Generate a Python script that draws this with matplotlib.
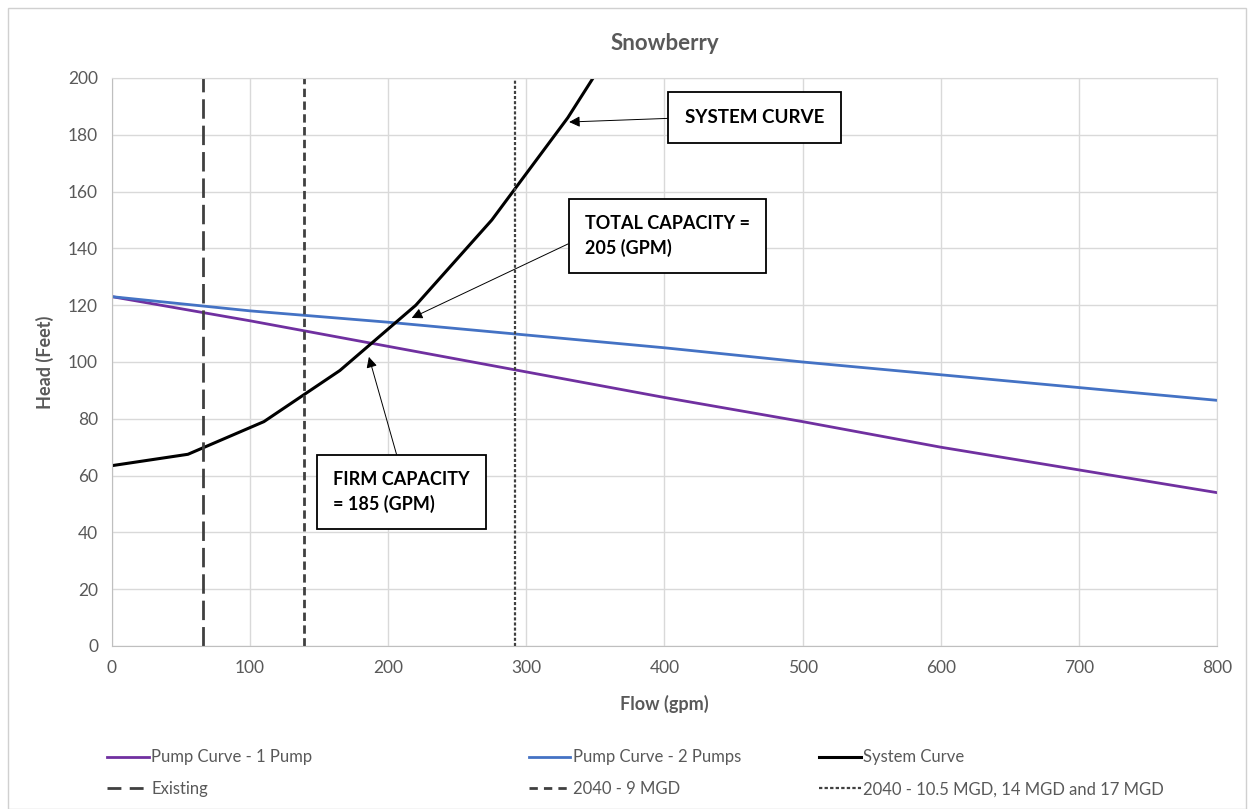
"""Snowberry pump station: pump curves vs system curve."""

import matplotlib.pyplot as plt
from matplotlib.lines import Line2D
from matplotlib.patches import Rectangle

plt.rcParams['font.family'] = ['Lato', 'DejaVu Sans']

# pump curves (flow gpm -> head ft)
pump_flow = [0, 100, 200, 300, 400, 500, 600, 700, 800]
pump1_head = [123, 114.5, 105.5, 96.5, 87.5, 79, 70, 62, 54]
pump2_head = [123, 118, 114, 109.5, 105, 100, 95.5, 91, 86.5]

# system curve
sys_flow = [0, 55, 110, 165, 220, 275, 330, 385]
sys_head = [63.5, 67.5, 79, 97, 120, 150, 186, 228]

# demand lines (gpm)
existing_flow = 66
mgd9_flow = 139
mgd_high_flow = 292

GRAY = '#595959'
GRID = '#D9D9D9'

fig = plt.figure(figsize=(12.51, 8.09), dpi=100)
fig.patches.append(Rectangle((0.006, 0.0), 0.99, 0.99, transform=fig.transFigure,
                             fill=False, edgecolor='#D0D0D0', lw=1))
ax = fig.add_axes([0.0895, 0.2015, 0.8833, 0.7021])

ax.plot(pump_flow, pump1_head, color='#7030A0', lw=2, label='Pump Curve - 1 Pump')
ax.plot(pump_flow, pump2_head, color='#4472C4', lw=2, label='Pump Curve - 2 Pumps')
ax.plot(sys_flow, sys_head, color='black', lw=2.2, label='System Curve')
ax.axvline(existing_flow, color='#404040', lw=2, dashes=(7, 2.5))
ax.axvline(mgd9_flow, color='#404040', lw=2, dashes=(3, 1.6))
ax.axvline(mgd_high_flow, color='#404040', lw=1.6, dashes=(1.4, 0.9))

ax.set_xlim(0, 800)
ax.set_ylim(0, 200)
ax.set_xticks(range(0, 801, 100))
ax.set_yticks(range(0, 201, 20))
ax.grid(True, color=GRID, lw=1)
ax.set_axisbelow(True)
for s in ax.spines.values():
    s.set_color(GRID)
ax.spines['left'].set_color('#BFBFBF')
ax.spines['bottom'].set_color('#BFBFBF')
ax.tick_params(length=0, labelsize=12.5, labelcolor=GRAY, pad=10)

ax.set_title('Snowberry', fontsize=16, fontweight='bold', color=GRAY, pad=20)
ax.set_xlabel('Flow (gpm)', fontsize=13, fontweight='bold', color=GRAY, labelpad=14)
ax.set_ylabel('Head (Feet)', fontsize=13, fontweight='bold', color=GRAY, labelpad=10)

box = dict(boxstyle='square,pad=0.9', fc='white', ec='black', lw=1.3)
arrow = dict(arrowstyle='-|>', color='black', lw=0.7, mutation_scale=16, shrinkA=0, shrinkB=0)

ax.annotate('SYSTEM CURVE', xy=(331, 184.5), xytext=(415, 186), ha='left', va='center',
            fontsize=13.5, fontweight='bold', bbox=box,
            arrowprops=dict(arrow, relpos=(0, 0.5)))
ax.annotate('TOTAL CAPACITY =\n205 (GPM)', xy=(217, 115.5), xytext=(342.5, 144.4),
            ha='left', va='center', fontsize=13, fontweight='bold', linespacing=1.45,
            bbox=box, arrowprops=dict(arrow, relpos=(0, 0.5)))
ax.annotate('FIRM CAPACITY\n= 185 (GPM)', xy=(186, 101.8), xytext=(160, 54.2),
            ha='left', va='center', fontsize=13, fontweight='bold', linespacing=1.45,
            bbox=box, arrowprops=dict(arrow, relpos=(0.5, 1)))

# legend, three columns placed by hand
h_p1 = Line2D([], [], color='#7030A0', lw=2)
h_p2 = Line2D([], [], color='#4472C4', lw=2)
h_sys = Line2D([], [], color='black', lw=2.2)
h_ex = Line2D([], [], color='#404040', lw=2, dashes=(5, 3))
h_9 = Line2D([], [], color='#404040', lw=2, dashes=(3, 2.2))
h_hi = Line2D([], [], color='#404040', lw=1.6, dashes=(1.5, 1))

cols = [
    ([h_p1, h_ex], ['Pump Curve - 1 Pump', 'Existing'], 0.079),
    ([h_p2, h_9], ['Pump Curve - 2 Pumps', '2040 - 9 MGD'], 0.416),
    ([h_sys, h_hi], ['System Curve', '2040 - 10.5 MGD, 14 MGD and 17 MGD'], 0.648),
]
for handles, labels, x0 in cols:
    fig.legend(handles, labels, loc='upper left', bbox_to_anchor=(x0, 0.084),
               frameon=False, fontsize=12, labelcolor=GRAY, handlelength=2.5,
               handletextpad=0.15, labelspacing=0.95, borderpad=0)

fig.savefig('out.png', dpi=100)
